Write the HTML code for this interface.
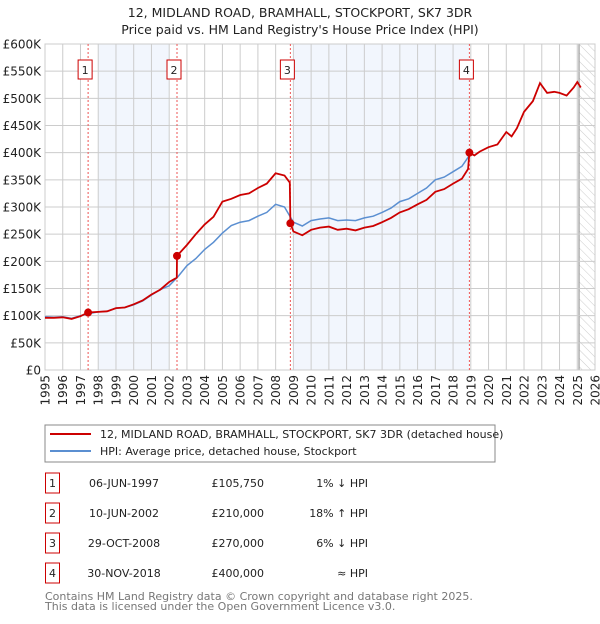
<!DOCTYPE html>
<html><head><meta charset="utf-8"><style>
body{margin:0;background:#fff;font-family:"DejaVu Sans","Liberation Sans",sans-serif;}
svg text{font-family:"DejaVu Sans","Liberation Sans",sans-serif;}
</style></head><body>
<svg id="chart" width="600" height="620" xmlns="http://www.w3.org/2000/svg">
<text x="300" y="17" text-anchor="middle" font-size="12.5" fill="#222">12, MIDLAND ROAD, BRAMHALL, STOCKPORT, SK7 3DR</text>
<text x="300" y="34" text-anchor="middle" font-size="12.5" fill="#222">Price paid vs. HM Land Registry's House Price Index (HPI)</text>
<defs><pattern id="hatch" width="6" height="6" patternUnits="userSpaceOnUse" patternTransform="rotate(-45)"><line x1="0" y1="0" x2="0" y2="6" stroke="#ccc" stroke-width="1"/></pattern></defs>
<g id="plot"></g>
<g>
<rect x="45" y="425" width="450" height="37" fill="#fff" stroke="#888"/>
<line x1="50" y1="434" x2="91" y2="434" stroke="#cc0000" stroke-width="2"/>
<text x="100" y="438" font-size="11" fill="#222">12, MIDLAND ROAD, BRAMHALL, STOCKPORT, SK7 3DR (detached house)</text>
<line x1="50" y1="451" x2="91" y2="451" stroke="#5b8fd1" stroke-width="2"/>
<text x="100" y="455" font-size="11" fill="#222">HPI: Average price, detached house, Stockport</text>
</g>
<g id="table" font-size="11" fill="#222"></g>
<text x="45" y="600" font-size="11" fill="#777">Contains HM Land Registry data © Crown copyright and database right 2025.</text>
<text x="45" y="610" font-size="11" fill="#777">This data is licensed under the Open Government Licence v3.0.</text>
</svg>
<script>
const hpiT=[1995,1995.5,1996,1996.5,1997,1997.5,1998,1998.5,1999,1999.5,2000,2000.5,2001,2001.5,2002,2002.5,2003,2003.5,2004,2004.5,2005,2005.5,2006,2006.5,2007,2007.5,2008,2008.5,2009,2009.5,2010,2010.5,2011,2011.5,2012,2012.5,2013,2013.5,2014,2014.5,2015,2015.5,2016,2016.5,2017,2017.5,2018,2018.5,2018.92];
const hpiV=[98,97,98,95,100,104,107,108,114,115,120,127,138,148,155,172,192,205,222,235,252,266,272,275,283,290,305,300,272,265,275,278,280,275,276,275,280,283,290,298,310,315,325,335,350,355,365,375,395];
const redT=[1995,1995.5,1996,1996.5,1997,1997.43,1998,1998.5,1999,1999.5,2000,2000.5,2001,2001.5,2002,2002.43,2002.44,2003,2003.5,2004,2004.5,2005,2005.5,2006,2006.5,2007,2007.5,2008,2008.5,2008.8,2008.83,2009,2009.5,2010,2010.5,2011,2011.5,2012,2012.5,2013,2013.5,2014,2014.5,2015,2015.5,2016,2016.5,2017,2017.5,2018,2018.5,2018.85,2018.92,2019.2,2019.5,2020,2020.5,2021,2021.3,2021.6,2022,2022.5,2022.9,2023.3,2023.7,2024,2024.4,2024.8,2025,2025.2];
const redV=[96,96,97,94,99,105.75,107,108,114,115,121,128,139,148,162,170,210,230,250,268,282,310,315,322,325,335,343,362,358,345,270,255,248,258,262,264,258,260,257,262,265,272,280,290,296,305,313,328,333,343,352,370,400,395,402,410,415,438,430,445,475,495,528,510,512,510,505,520,530,520];
const saleT=[1997.43,2002.44,2008.83,2018.92];
const saleV=[105.75,210,270,400];
const saleLabels=["1","2","3","4"];
const saleDates=["06-JUN-1997","10-JUN-2002","29-OCT-2008","30-NOV-2018"];
const salePrices=["£105,750","£210,000","£270,000","£400,000"];
const saleHpi=["1% ↓ HPI","18% ↑ HPI","6% ↓ HPI","≈ HPI"];
const yTicks=[0,50,100,150,200,250,300,350,400,450,500,550,600];
const yTickLabels=["£0","£50K","£100K","£150K","£200K","£250K","£300K","£350K","£400K","£450K","£500K","£550K","£600K"];
const xYears=[1995,1996,1997,1998,1999,2000,2001,2002,2003,2004,2005,2006,2007,2008,2009,2010,2011,2012,2013,2014,2015,2016,2017,2018,2019,2020,2021,2022,2023,2024,2025,2026];
const shadeBands=[[1998,2002],[2009,2018.92]];
const X0=45,X1=595,Y0=370,Y1=44;
const xs=t=>X0+(t-1995)/31*(X1-X0);
const ys=v=>Y0-v/600*(Y0-Y1);
const NS="http://www.w3.org/2000/svg";
const plot=document.getElementById('plot');
function mk(tag,attrs,parent){const e=document.createElementNS(NS,tag);for(const k in attrs)e.setAttribute(k,attrs[k]);(parent||plot).appendChild(e);return e;}
let e;
e=mk('rect',{x:X0,y:Y1,width:X1-X0,height:Y0-Y1,fill:'#fff'});


shadeBands.forEach(b=>{e=mk('rect',{x:xs(b[0]),y:Y1,width:xs(b[1])-xs(b[0]),height:Y0-Y1,fill:'#f2f6fd'});

});
e=mk('rect',{x:xs(2025.1),y:Y1,width:X1-xs(2025.1),height:Y0-Y1,fill:'url(#hatch)'});


e=mk('line',{x1:xs(2025.1),x2:xs(2025.1),y1:Y1,y2:Y0,stroke:'#999','stroke-width':1.2});


yTicks.forEach((v,i)=>{e=mk('line',{x1:X0,x2:X1,y1:ys(v),y2:ys(v),stroke:'#ccc'});


e=mk('text',{x:X0-4,y:ys(v)+4.5,'text-anchor':'end','font-size':12,fill:'#222'});e.textContent=yTickLabels[i];

});
xYears.forEach(y=>{e=mk('line',{x1:xs(y),x2:xs(y),y1:Y1,y2:Y0,stroke:'#ccc'});


e=mk('text',{x:0,y:0,'text-anchor':'end','font-size':12,fill:'#222',transform:`translate(${xs(y)+4.5},${Y0+5}) rotate(-90)`});e.textContent=y;

});
e=mk('rect',{x:X0,y:Y1,width:X1-X0,height:Y0-Y1,fill:'none',stroke:'#ccc'});


saleT.forEach((t,i)=>{e=mk('line',{x1:xs(t),x2:xs(t),y1:Y1,y2:Y0,stroke:'#e55','stroke-dasharray':'2,2'});


e=mk('rect',{x:xs(t)-10,y:60,width:14,height:19,fill:'#fff',stroke:'#c00'});


e=mk('text',{x:xs(t)-3,y:74,'text-anchor':'middle','font-size':11,fill:'#222'});e.textContent=saleLabels[i];

});
e=mk('path',{d:hpiT.map((t,i)=>(i?'L':'M')+xs(t).toFixed(1)+','+ys(hpiV[i]).toFixed(1)).join(''),fill:'none',stroke:'#5b8fd1','stroke-width':1.5});


e=mk('path',{d:redT.map((t,i)=>(i?'L':'M')+xs(t).toFixed(1)+','+ys(redV[i]).toFixed(1)).join(''),fill:'none',stroke:'#cc0000','stroke-width':1.8});


saleT.forEach((t,i)=>{e=mk('circle',{cx:xs(t),cy:ys(saleV[i]),r:4,fill:'#cc0000'});

});
const tbl=document.getElementById('table');
saleT.forEach((t,i)=>{const cy=483+i*30;
e=mk('rect',{x:45.5,y:cy-10,width:14,height:20,fill:'#fff',stroke:'#c00'},tbl);


e=mk('text',{x:52.5,y:cy+4,'text-anchor':'middle'},tbl);e.textContent=saleLabels[i];


e=mk('text',{x:124,y:cy+4,'text-anchor':'middle'},tbl);e.textContent=saleDates[i];


e=mk('text',{x:264,y:cy+4,'text-anchor':'end'},tbl);e.textContent=salePrices[i];


e=mk('text',{x:368,y:cy+4,'text-anchor':'end'},tbl);e.textContent=saleHpi[i];

});
</script>
</body></html>
